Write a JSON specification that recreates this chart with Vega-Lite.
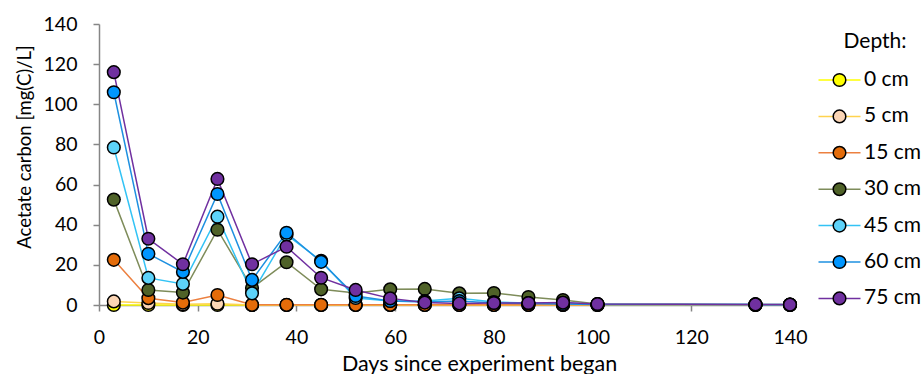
{
  "$schema": "https://vega.github.io/schema/vega-lite/v6.json",
  "width": 691,
  "height": 281,
  "autosize": {"type": "none"},
  "padding": {"left": 99, "top": 24, "right": 132, "bottom": 69},
  "config": {
    "view": {"stroke": null},
    "font": "Lato",
    "axis": {
      "grid": false,
      "domainColor": "#868686",
      "domainWidth": 1.5,
      "tickColor": "#868686",
      "tickWidth": 1.5,
      "tickSize": 6,
      "labelColor": "#000000",
      "labelFontSize": 19.5,
      "titleColor": "#000000",
      "titleFontWeight": "normal"
    }
  },
  "data": {
    "values": [
      {"depth": "0 cm", "day": 3, "c": 0}, {"depth": "0 cm", "day": 10, "c": 0}, {"depth": "0 cm", "day": 17, "c": 0}, {"depth": "0 cm", "day": 24, "c": 0}, {"depth": "0 cm", "day": 31, "c": 0}, {"depth": "0 cm", "day": 38, "c": 0}, {"depth": "0 cm", "day": 45, "c": 0}, {"depth": "0 cm", "day": 52, "c": 0}, {"depth": "0 cm", "day": 59, "c": 0}, {"depth": "0 cm", "day": 66, "c": 0}, {"depth": "0 cm", "day": 73, "c": 0}, {"depth": "0 cm", "day": 80, "c": 0}, {"depth": "0 cm", "day": 87, "c": 0}, {"depth": "0 cm", "day": 94, "c": 0}, {"depth": "0 cm", "day": 101, "c": 0}, {"depth": "0 cm", "day": 133, "c": 0}, {"depth": "0 cm", "day": 140, "c": 0},
      {"depth": "5 cm", "day": 3, "c": 1.8}, {"depth": "5 cm", "day": 10, "c": 1.0}, {"depth": "5 cm", "day": 17, "c": 0.4}, {"depth": "5 cm", "day": 24, "c": 0.6}, {"depth": "5 cm", "day": 31, "c": 0}, {"depth": "5 cm", "day": 38, "c": 0}, {"depth": "5 cm", "day": 45, "c": 0}, {"depth": "5 cm", "day": 52, "c": 0}, {"depth": "5 cm", "day": 59, "c": 0}, {"depth": "5 cm", "day": 66, "c": 0}, {"depth": "5 cm", "day": 73, "c": 0}, {"depth": "5 cm", "day": 80, "c": 0}, {"depth": "5 cm", "day": 87, "c": 0}, {"depth": "5 cm", "day": 94, "c": 0}, {"depth": "5 cm", "day": 101, "c": 0}, {"depth": "5 cm", "day": 133, "c": 0}, {"depth": "5 cm", "day": 140, "c": 0},
      {"depth": "15 cm", "day": 3, "c": 22.5}, {"depth": "15 cm", "day": 10, "c": 3.4}, {"depth": "15 cm", "day": 17, "c": 1.2}, {"depth": "15 cm", "day": 24, "c": 5.0}, {"depth": "15 cm", "day": 31, "c": 0.1}, {"depth": "15 cm", "day": 38, "c": 0.1}, {"depth": "15 cm", "day": 45, "c": 0.1}, {"depth": "15 cm", "day": 52, "c": 0.1}, {"depth": "15 cm", "day": 59, "c": 0.1}, {"depth": "15 cm", "day": 66, "c": 0.1}, {"depth": "15 cm", "day": 73, "c": 0.1}, {"depth": "15 cm", "day": 80, "c": 0.1}, {"depth": "15 cm", "day": 87, "c": 0.1}, {"depth": "15 cm", "day": 94, "c": 0.1}, {"depth": "15 cm", "day": 101, "c": 0.1}, {"depth": "15 cm", "day": 133, "c": 0.1}, {"depth": "15 cm", "day": 140, "c": 0.1},
      {"depth": "30 cm", "day": 3, "c": 52.5}, {"depth": "30 cm", "day": 10, "c": 7.5}, {"depth": "30 cm", "day": 17, "c": 6.2}, {"depth": "30 cm", "day": 24, "c": 37.5}, {"depth": "30 cm", "day": 31, "c": 8.5}, {"depth": "30 cm", "day": 38, "c": 21.3}, {"depth": "30 cm", "day": 45, "c": 7.8}, {"depth": "30 cm", "day": 52, "c": 6.0}, {"depth": "30 cm", "day": 59, "c": 7.8}, {"depth": "30 cm", "day": 66, "c": 8.0}, {"depth": "30 cm", "day": 73, "c": 5.8}, {"depth": "30 cm", "day": 80, "c": 6.0}, {"depth": "30 cm", "day": 87, "c": 4.0}, {"depth": "30 cm", "day": 94, "c": 2.5}, {"depth": "30 cm", "day": 101, "c": 0.5}, {"depth": "30 cm", "day": 133, "c": 0.3}, {"depth": "30 cm", "day": 140, "c": 0.2},
      {"depth": "45 cm", "day": 3, "c": 78.5}, {"depth": "45 cm", "day": 10, "c": 13.5}, {"depth": "45 cm", "day": 17, "c": 10.5}, {"depth": "45 cm", "day": 24, "c": 44.0}, {"depth": "45 cm", "day": 31, "c": 5.8}, {"depth": "45 cm", "day": 38, "c": 35.0}, {"depth": "45 cm", "day": 45, "c": 22.0}, {"depth": "45 cm", "day": 52, "c": 3.5}, {"depth": "45 cm", "day": 59, "c": 2.0}, {"depth": "45 cm", "day": 66, "c": 2.0}, {"depth": "45 cm", "day": 73, "c": 3.3}, {"depth": "45 cm", "day": 80, "c": 1.5}, {"depth": "45 cm", "day": 87, "c": 1.0}, {"depth": "45 cm", "day": 94, "c": 1.0}, {"depth": "45 cm", "day": 101, "c": 0.3}, {"depth": "45 cm", "day": 133, "c": 0.3}, {"depth": "45 cm", "day": 140, "c": 0.2},
      {"depth": "60 cm", "day": 3, "c": 106.0}, {"depth": "60 cm", "day": 10, "c": 25.5}, {"depth": "60 cm", "day": 17, "c": 16.5}, {"depth": "60 cm", "day": 24, "c": 55.3}, {"depth": "60 cm", "day": 31, "c": 12.5}, {"depth": "60 cm", "day": 38, "c": 36.0}, {"depth": "60 cm", "day": 45, "c": 21.5}, {"depth": "60 cm", "day": 52, "c": 4.5}, {"depth": "60 cm", "day": 59, "c": 2.0}, {"depth": "60 cm", "day": 66, "c": 1.5}, {"depth": "60 cm", "day": 73, "c": 2.0}, {"depth": "60 cm", "day": 80, "c": 1.0}, {"depth": "60 cm", "day": 87, "c": 0.8}, {"depth": "60 cm", "day": 94, "c": 0.5}, {"depth": "60 cm", "day": 101, "c": 0.3}, {"depth": "60 cm", "day": 133, "c": 0.2}, {"depth": "60 cm", "day": 140, "c": 0.1},
      {"depth": "75 cm", "day": 3, "c": 116.0}, {"depth": "75 cm", "day": 10, "c": 33.0}, {"depth": "75 cm", "day": 17, "c": 20.3}, {"depth": "75 cm", "day": 24, "c": 62.8}, {"depth": "75 cm", "day": 31, "c": 20.3}, {"depth": "75 cm", "day": 38, "c": 29.0}, {"depth": "75 cm", "day": 45, "c": 13.6}, {"depth": "75 cm", "day": 52, "c": 7.5}, {"depth": "75 cm", "day": 59, "c": 3.3}, {"depth": "75 cm", "day": 66, "c": 1.2}, {"depth": "75 cm", "day": 73, "c": 0.8}, {"depth": "75 cm", "day": 80, "c": 1.0}, {"depth": "75 cm", "day": 87, "c": 1.0}, {"depth": "75 cm", "day": 94, "c": 1.2}, {"depth": "75 cm", "day": 101, "c": 0.5}, {"depth": "75 cm", "day": 133, "c": 0.3}, {"depth": "75 cm", "day": 140, "c": 0.2}
    ]
  },
  "encoding": {
    "x": {
      "field": "day",
      "type": "quantitative",
      "scale": {"domain": [0, 140], "nice": false},
      "axis": {
        "values": [0, 20, 40, 60, 80, 100, 120, 140],
        "labelFlush": false,
        "labelPadding": 17,
        "title": "Days since experiment began",
        "titleFontSize": 21.5,
        "titleX": 380,
        "titleY": 65,
        "titleBaseline": "alphabetic",
        "titleAnchor": null,
        "titleAlign": "center"
      }
    },
    "y": {
      "field": "c",
      "type": "quantitative",
      "scale": {"domain": [0, 140], "nice": false},
      "axis": {
        "values": [0, 20, 40, 60, 80, 100, 120, 140],
        "labelPadding": 16,
        "title": "Acetate carbon [mg(C)/L]",
        "titleFontSize": 18.5,
        "titleX": -75,
        "titleY": 122.5,
        "titleAngle": -90,
        "titleAlign": "center",
        "titleBaseline": "middle",
        "titleAnchor": null
      }
    }
  },
  "layer": [
    {
      "mark": {"type": "line", "strokeWidth": 1.5},
      "encoding": {
        "stroke": {
          "field": "depth",
          "type": "nominal",
          "scale": {
            "domain": ["0 cm", "5 cm", "15 cm", "30 cm", "45 cm", "60 cm", "75 cm"],
            "range": ["#FFFF00", "#FFD34F", "#EC8040", "#7E8C5A", "#33C3F5", "#1E90E0", "#7030A0"]
          },
          "legend": {
            "orient": "none",
            "legendX": 729,
            "legendY": 6.5,
            "title": "Depth:",
            "titleFontSize": 21,
            "titleFontWeight": "normal",
            "titleColor": "#000000",
            "titleAnchor": "middle",
            "titlePadding": 17,
            "symbolType": "M-2,0H2",
            "symbolSize": 441,
            "symbolStrokeWidth": 1.5,
            "symbolFillColor": "transparent",
            "labelFontSize": 21,
            "labelColor": "#000000",
            "labelOffset": 13,
            "rowPadding": 14.4
          }
        }
      }
    },
    {
      "mark": {"type": "circle", "size": 160, "stroke": "#000000", "strokeWidth": 1.5, "opacity": 1, "fillOpacity": 1},
      "encoding": {
        "fill": {
          "field": "depth",
          "type": "nominal",
          "sort": ["0 cm", "5 cm", "15 cm", "30 cm", "45 cm", "60 cm", "75 cm"],
          "scale": {
            "range": ["#FFFF00", "#FBD5B5", "#E46C0A", "#4F6228", "#5DD3FA", "#0096FF", "#7030A0"]
          },
          "legend": {
            "orient": "none",
            "legendX": 729,
            "legendY": 44.5,
            "title": null,
            "symbolType": "M-0.6,0A0.6,0.6 0 1,0 0.6,0A0.6,0.6 0 1,0 -0.6,0Z",
            "symbolSize": 441,
            "symbolStrokeWidth": 1.5,
            "symbolStrokeColor": "#000000",
            "symbolOpacity": 1,
            "labelFontSize": 21,
            "labelExpr": "''",
            "labelOffset": 13,
            "rowPadding": 14.4
          }
        }
      }
    }
  ]
}
